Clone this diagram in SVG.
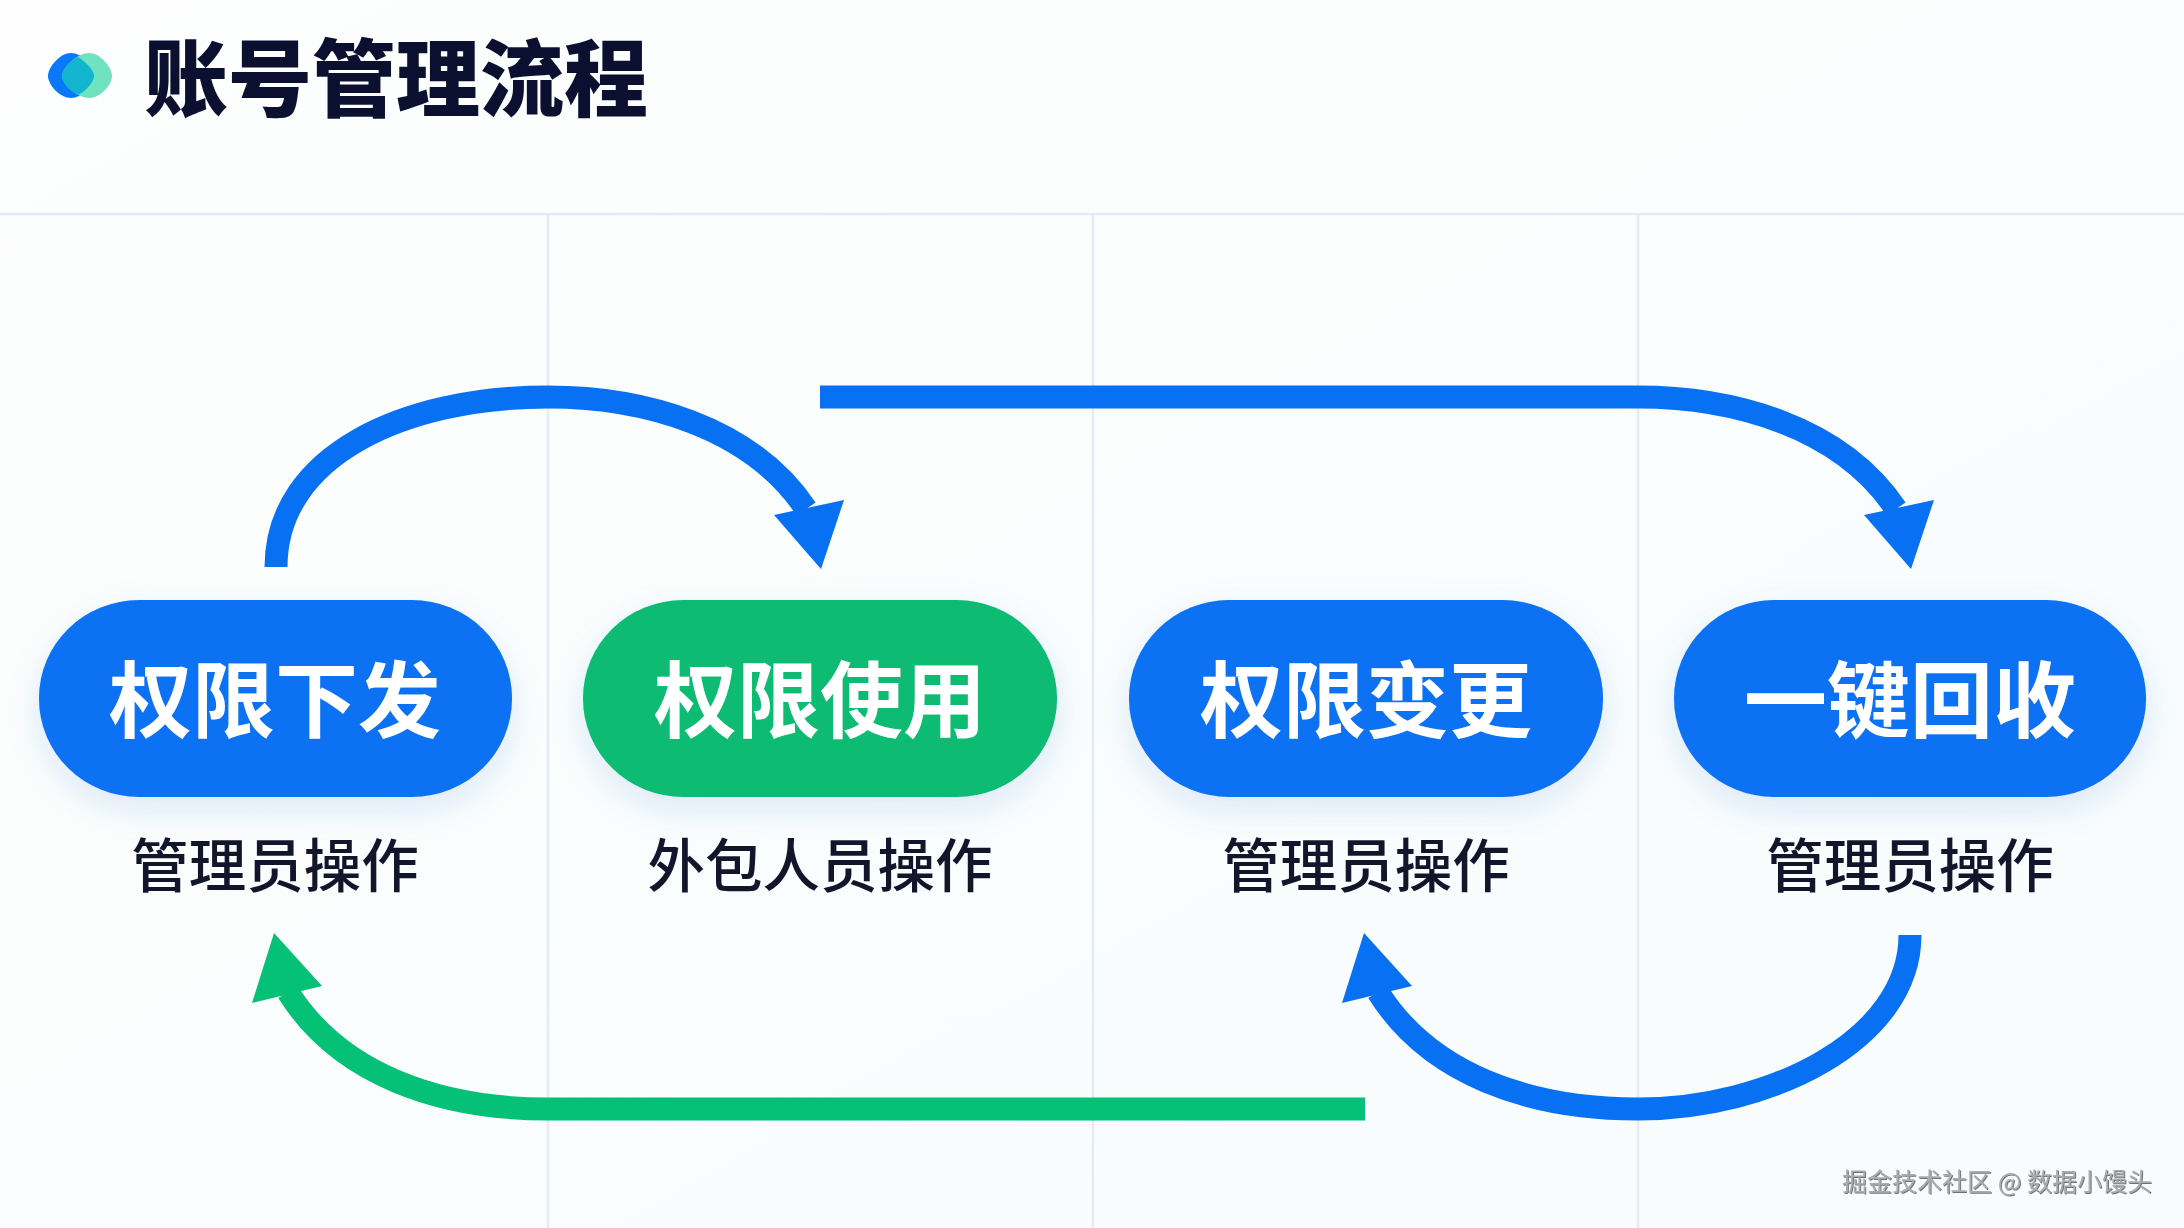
<svg xmlns="http://www.w3.org/2000/svg" width="2184" height="1228" viewBox="0 0 2184 1228">
<style>
.cjk{font-family:"Noto Sans CJK SC","Liberation Sans",sans-serif;text-anchor:middle}
.pill-label{font-size:83px;font-weight:700;fill:#fff;dominant-baseline:central}
.sub{font-size:57.5px;font-weight:500;fill:#12162b;dominant-baseline:central}
.grid{stroke:#e4ebf8;stroke-width:2.5;fill:none}
.shaft{fill:none;stroke-width:23}
.blue{stroke:#0871f3}.green{stroke:#05c077}
.fb{fill:#0871f3}.fg{fill:#05c077}.pg{fill:#0fbc72}
</style>
<defs>
<linearGradient id="bg" x1="0" y1="0" x2="1" y2="1"><stop offset="0" stop-color="#fdfefd"/><stop offset="1" stop-color="#f8fcfd"/></linearGradient>
<filter id="soft" x="-20%" y="-30%" width="140%" height="170%"><feDropShadow dx="0" dy="12" stdDeviation="16" flood-color="#2f6fd0" flood-opacity="0.15"/></filter>
<filter id="emb" x="-5%" y="-20%" width="110%" height="140%"><feDropShadow dx="1" dy="1" stdDeviation="0.4" flood-color="#444" flood-opacity="0.75"/></filter>
</defs>
<rect width="2184" height="1228" fill="url(#bg)"/>
<g id="header">
<path id="logo-b" d="M71 53C82 53 94 67 94 76C94 85 82 98 71 98C60 98 48 85 48 76C48 67 60 53 71 53Z" fill="#0a78fa"/>
<path d="M89 53C100 53 112 67 112 76C112 85 100 98 89 98C78 98 62 85 62 76C62 67 78 53 89 53Z" fill="#6fe3c0"/>
<path d="M78 57C86 62 94 70 94 76C94 82 86 91 78 95C69 90 62 83 62 76C62 69 69 62 78 57Z" fill="#12b4d0"/>
<text class="cjk" x="396" y="73" font-size="84" font-weight="900" fill="#0b1030" dominant-baseline="central">账号管理流程</text>
</g>
<g id="grid">
<path class="grid" d="M0 214H2184M548 214V1228M1093 214V1228M1638 214V1228"/>
</g>
<g id="connectors">
<path class="shaft blue" d="M276 567C276 455 405 397 548 397C640 397 750 425 806 509"/>
<polygon class="fb" points="844,500 821,569 774,515"/>
<path class="shaft blue" d="M820 397H1638C1730 397 1840 425 1896 509"/>
<polygon class="fb" points="1934,500 1911,569 1864,515"/>
<path class="shaft blue" d="M1910 935C1910 1040 1770 1109 1638 1109C1530 1109 1430 1075 1378 992"/>
<polygon class="fb" points="1342,1003 1364,933 1412,986"/>
<path class="shaft green" d="M1365 1109H548C440 1109 340 1075 288 992"/>
<polygon class="fg" points="252,1003 274,933 322,986"/>
</g>
<g id="node-1"><rect x="39" y="600" width="473" height="197" rx="100" ry="98" class="fb" filter="url(#soft)"/><text class="cjk pill-label" x="275" y="695">权限下发</text><text class="cjk sub" x="275" y="862">管理员操作</text></g>
<g id="node-2"><rect x="583" y="600" width="474" height="197" rx="100" ry="98" class="pg" filter="url(#soft)"/><text class="cjk pill-label" x="820" y="695">权限使用</text><text class="cjk sub" x="820" y="862">外包人员操作</text></g>
<g id="node-3"><rect x="1129" y="600" width="474" height="197" rx="100" ry="98" class="fb" filter="url(#soft)"/><text class="cjk pill-label" x="1366" y="695">权限变更</text><text class="cjk sub" x="1366" y="862">管理员操作</text></g>
<g id="node-4"><rect x="1674" y="600" width="472" height="197" rx="100" ry="98" class="fb" filter="url(#soft)"/><text class="cjk pill-label" x="1910" y="695">一键回收</text><text class="cjk sub" x="1910" y="862">管理员操作</text></g>
<text id="watermark" class="cjk" x="1997" y="1180" font-size="25" fill="#a8acb0" dominant-baseline="central" filter="url(#emb)">掘金技术社区 @ 数据小馒头</text>
</svg>
